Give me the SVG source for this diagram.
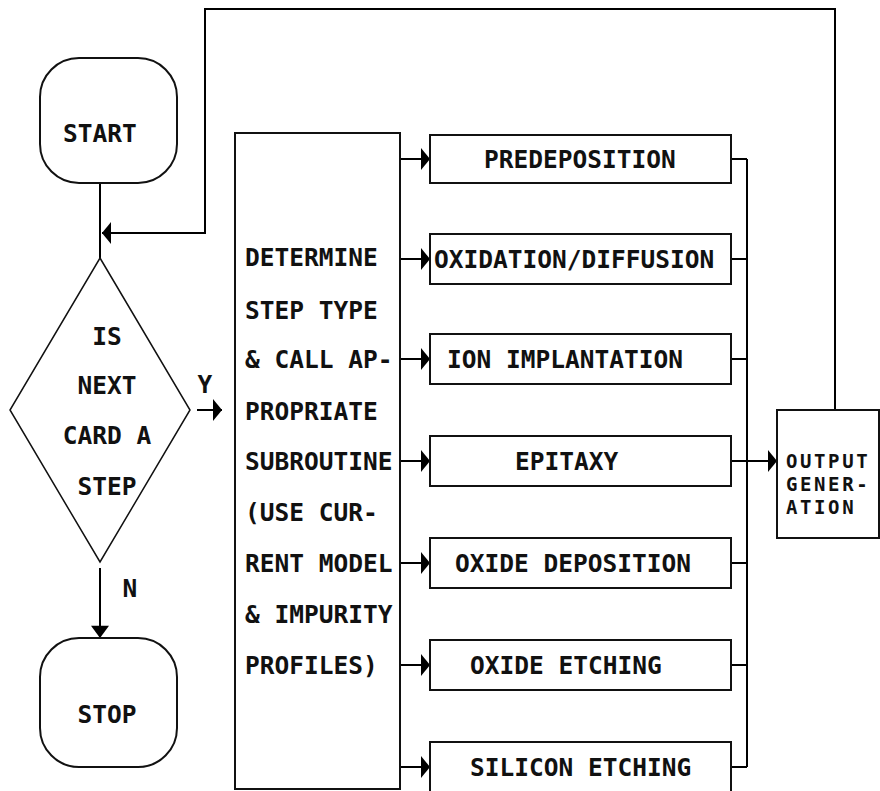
<svg xmlns="http://www.w3.org/2000/svg" width="880" height="791" viewBox="0 0 880 791">
<defs>
<style>
.ln{fill:none;stroke:#000;stroke-width:2}
.sh{fill:#fff;stroke:#111;stroke-width:2}
.dm{fill:#fff;stroke:#111;stroke-width:1.5}
text{font-family:"DejaVu Sans Mono","Liberation Mono",monospace;font-weight:bold;font-size:24.5px;fill:#111}
.mid{text-anchor:middle}
.sm{font-size:19px;letter-spacing:2.6px}
</style>
<marker id="ah" markerUnits="userSpaceOnUse" markerWidth="12" markerHeight="24" refX="9" refY="11" orient="auto" viewBox="0 0 12 22">
<path d="M0,0 L9,11 L0,22 Z" fill="#000"/>
</marker>
<marker id="ahd" markerUnits="userSpaceOnUse" markerWidth="14" markerHeight="18" refX="11" refY="8" orient="auto" viewBox="0 0 12 16">
<path d="M0,0 L11,8 L0,16 Z" fill="#000"/>
</marker>
</defs>
<rect width="880" height="791" fill="#fff"/>

<g id="connectors">
<path class="ln" d="M100,183 V258"/>
<path class="ln" d="M835,410 V9 H205 V233 H102" marker-end="url(#ah)"/>
<path class="ln" d="M197,410 H222" marker-end="url(#ah)"/>
<path class="ln" d="M100,568 V638" marker-end="url(#ahd)"/>
<path class="ln" d="M400,159 H430" marker-end="url(#ah)"/>
<path class="ln" d="M400,259 H430" marker-end="url(#ah)"/>
<path class="ln" d="M400,359 H430" marker-end="url(#ah)"/>
<path class="ln" d="M400,461 H430" marker-end="url(#ah)"/>
<path class="ln" d="M400,563 H430" marker-end="url(#ah)"/>
<path class="ln" d="M400,665 H430" marker-end="url(#ah)"/>
<path class="ln" d="M400,767 H430" marker-end="url(#ah)"/>
<path class="ln" d="M731,159 H747 M731,259 H747 M731,359 H747 M731,563 H747 M731,665 H747 M731,767 H747 M747,159 V767"/>
<path class="ln" d="M731,461 H777" marker-end="url(#ah)"/>
<text x="205" y="393" class="mid">Y</text>
<text x="130" y="597" class="mid">N</text>
</g>

<g id="start">
<rect class="sh" x="40" y="58" width="137" height="125" rx="39" ry="39"/>
<text x="100" y="142" class="mid">START</text>
</g>

<g id="decision">
<polygon class="dm" points="100,258 190,410 100,562 10,410"/>
<text x="107" y="345" class="mid">IS</text>
<text x="107" y="394" class="mid">NEXT</text>
<text x="107" y="444" class="mid">CARD A</text>
<text x="107" y="495" class="mid">STEP</text>
</g>

<g id="stop">
<rect class="sh" x="40" y="638" width="137" height="129" rx="39" ry="39"/>
<text x="107" y="723" class="mid">STOP</text>
</g>

<g id="determine">
<rect class="sh" x="235" y="133" width="165" height="656"/>
<text x="245" y="266">DETERMINE</text>
<text x="245" y="319">STEP TYPE</text>
<text x="245" y="368">&amp; CALL AP-</text>
<text x="245" y="420">PROPRIATE</text>
<text x="245" y="470">SUBROUTINE</text>
<text x="245" y="521">(USE CUR-</text>
<text x="245" y="572">RENT MODEL</text>
<text x="245" y="623">&amp; IMPURITY</text>
<text x="245" y="674">PROFILES)</text>
</g>

<g id="predeposition">
<rect class="sh" x="430" y="135" width="301" height="48"/>
<text x="484" y="168">PREDEPOSITION</text>
</g>
<g id="oxidation">
<rect class="sh" x="430" y="234" width="301" height="50"/>
<text x="434" y="268">OXIDATION/DIFFUSION</text>
</g>
<g id="ion">
<rect class="sh" x="430" y="334" width="301" height="50"/>
<text x="447" y="368">ION IMPLANTATION</text>
</g>
<g id="epitaxy">
<rect class="sh" x="430" y="436" width="301" height="50"/>
<text x="515" y="470">EPITAXY</text>
</g>
<g id="oxidedep">
<rect class="sh" x="430" y="538" width="301" height="50"/>
<text x="455" y="572">OXIDE DEPOSITION</text>
</g>
<g id="oxideetch">
<rect class="sh" x="430" y="640" width="301" height="50"/>
<text x="470" y="674">OXIDE ETCHING</text>
</g>
<g id="siliconetch">
<rect class="sh" x="430" y="742" width="301" height="54"/>
<text x="470" y="776">SILICON ETCHING</text>
</g>

<g id="output">
<rect class="sh" x="777" y="410" width="102" height="128"/>
<text x="786" y="468" class="sm">OUTPUT</text>
<text x="786" y="491" class="sm">GENER-</text>
<text x="786" y="514" class="sm">ATION</text>
</g>
</svg>
